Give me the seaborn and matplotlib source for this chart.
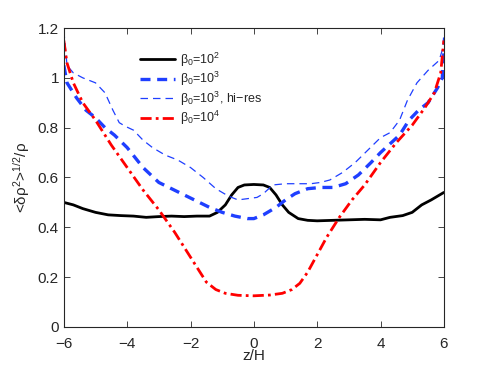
import numpy as np
import pandas as pd
import seaborn as sns
import matplotlib
matplotlib.use("Agg")
import matplotlib.pyplot as plt
from matplotlib.ticker import FuncFormatter

# datos
z_b2 = [-6, -5.7, -5.4, -5, -4.6, -4.2, -3.8, -3.4, -3, -2.6, -2.2, -1.8, -1.4, -1.15, -0.9,
        -0.7, -0.5, -0.3, 0, 0.3, 0.5, 0.7, 0.9, 1.1, 1.4, 1.7, 2, 2.5, 3, 3.5, 4, 4.3, 4.7,
        5.0, 5.3, 5.6, 5.8, 6]
b2 = [0.50, 0.49, 0.475, 0.46, 0.45, 0.447, 0.445, 0.44, 0.443, 0.445, 0.443, 0.445, 0.445,
      0.46, 0.49, 0.53, 0.56, 0.57, 0.572, 0.57, 0.56, 0.53, 0.49, 0.46, 0.435, 0.428, 0.426,
      0.428, 0.43, 0.432, 0.43, 0.44, 0.447, 0.46, 0.49, 0.51, 0.525, 0.54]

z_b3 = [-6, -5.9, -5.6, -5.3, -5.0, -4.7, -4.4, -4.0, -3.5, -3.0, -2.6, -2.2, -1.8, -1.4, -1.0,
        -0.6, -0.2, 0, 0.3, 0.7, 1.0, 1.3, 1.7, 2.1, 2.5, 2.9, 3.3, 3.7, 4.0, 4.3, 4.6, 4.9,
        5.2, 5.5, 5.8, 5.95, 6]
b3 = [1.05, 0.98, 0.92, 0.87, 0.84, 0.80, 0.77, 0.72, 0.64, 0.58, 0.555, 0.53, 0.505, 0.48,
      0.46, 0.445, 0.435, 0.435, 0.45, 0.48, 0.51, 0.535, 0.555, 0.56, 0.56, 0.575, 0.61,
      0.66, 0.70, 0.735, 0.77, 0.83, 0.87, 0.90, 0.96, 1.0, 1.1]

z_b3hr = [-6, -5.9, -5.7, -5.4, -5.0, -4.7, -4.45, -4.25, -4.05, -3.8, -3.5, -3.2, -2.8, -2.4,
          -2.0, -1.6, -1.2, -0.8, -0.5, -0.2, 0.1, 0.3, 0.6, 1.0, 1.4, 1.8, 2.1, 2.4, 2.8, 3.2,
          3.6, 4.0, 4.3, 4.6, 4.85, 5.15, 5.5, 5.85, 5.97, 6]
b3hr = [1.19, 1.05, 1.02, 1.0, 0.98, 0.94, 0.87, 0.82, 0.805, 0.79, 0.75, 0.72, 0.69, 0.67,
        0.64, 0.6, 0.555, 0.525, 0.51, 0.515, 0.52, 0.535, 0.57, 0.575, 0.575, 0.575, 0.58,
        0.59, 0.62, 0.66, 0.71, 0.76, 0.78, 0.83, 0.91, 0.98, 1.03, 1.07, 1.12, 1.18]

z_b4 = [-6, -5.9, -5.7, -5.4, -5.0, -4.5, -4.0, -3.5, -3.0, -2.5, -2.1, -1.8, -1.5, -1.2, -0.9,
        -0.5, 0, 0.5, 0.9, 1.2, 1.45, 1.7, 2.0, 2.3, 2.7, 3.1, 3.5, 4.0, 4.5, 5.0, 5.4, 5.7,
        5.9, 6]
b4 = [1.15, 1.06, 0.98, 0.90, 0.83, 0.73, 0.64, 0.55, 0.47, 0.38, 0.30, 0.24, 0.18, 0.15,
      0.135, 0.127, 0.125, 0.128, 0.135, 0.15, 0.175, 0.22, 0.29, 0.36, 0.44, 0.51, 0.57,
      0.66, 0.74, 0.81, 0.88, 0.94, 1.02, 1.15]

sns.set_style("ticks")
plt.rcParams["font.family"] = ["Liberation Sans", "DejaVu Sans"]
plt.rcParams["mathtext.fontset"] = "custom"
plt.rcParams["mathtext.rm"] = "Liberation Sans"
plt.rcParams["mathtext.it"] = "Liberation Sans:italic"
plt.rcParams["xtick.direction"] = "in"
plt.rcParams["ytick.direction"] = "in"

fig = plt.figure(figsize=(4.91, 3.69), dpi=100)
ax = fig.add_axes([0.130, 0.114, 0.774, 0.81])

sns.lineplot(x=z_b2, y=b2, ax=ax, color="black", lw=2, label="β$_0$=10$^2$")
sns.lineplot(x=z_b3, y=b3, ax=ax, color="#1f3fff", lw=2.4, linestyle=(0, (3, 2)),
             label="β$_0$=10$^3$")
sns.lineplot(x=z_b3hr, y=b3hr, ax=ax, color="#1f3fff", lw=0.9, linestyle=(0, (6, 4)),
             label="β$_0$=10$^3$, hi−res")
sns.lineplot(x=z_b4, y=b4, ax=ax, color="red", lw=2, linestyle=(0, (4, 1.5, 1, 1.5)),
             label="β$_0$=10$^4$")

ax.set_xlim(-6, 6)
ax.set_ylim(0, 1.2)
ax.set_xticks(np.arange(-6, 7, 2))
ax.set_yticks(np.arange(0, 1.21, 0.2))
ax.xaxis.set_major_formatter(FuncFormatter(lambda v, p: f"{v:g}".replace("-", "−")))
ax.yaxis.set_major_formatter(FuncFormatter(lambda v, p: f"{v:.1f}".rstrip("0").rstrip(".")))
ax.tick_params(top=True, right=True, labelsize=11, length=4, width=0.6)
ax.tick_params(axis="x", pad=7)
for s in ax.spines.values():
    s.set_linewidth(0.8)

ax.set_xlabel("z/H", fontsize=11, labelpad=-1)
ax.set_ylabel("<δρ$^2$>$^{1/2}$/ρ", fontsize=11, labelpad=4)

ax.legend(loc="upper left", bbox_to_anchor=(0.2, 0.925), frameon=False, fontsize=9,
          handlelength=2.8, handletextpad=0.4, labelspacing=0.1, borderaxespad=0, borderpad=0)

plt.savefig("out.png", dpi=100)
plt.close()
